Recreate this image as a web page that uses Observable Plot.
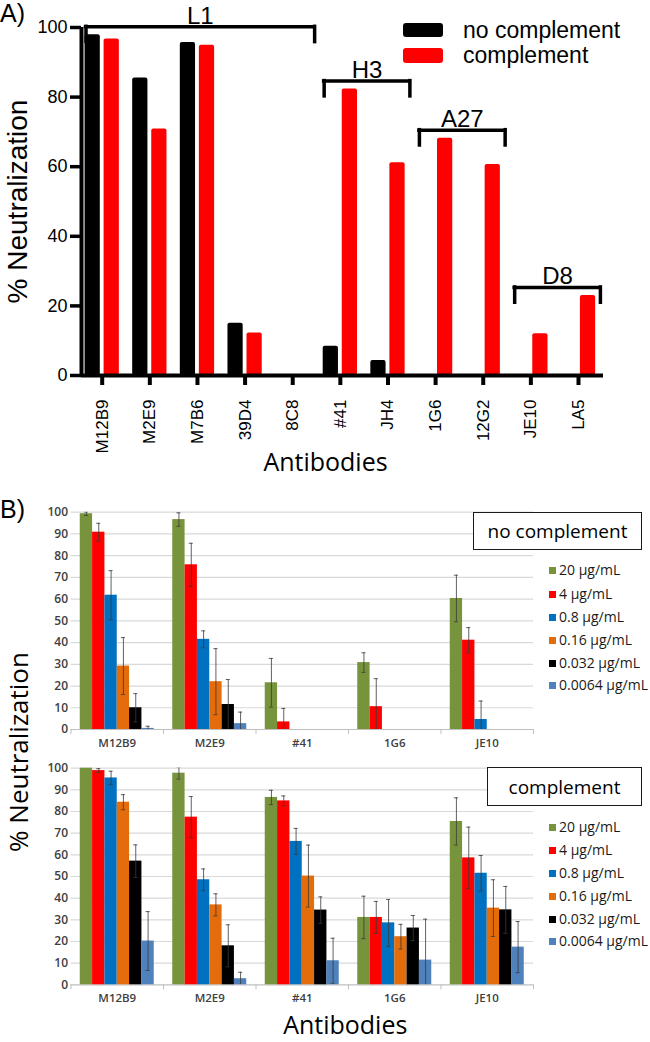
<!DOCTYPE html>
<html><head><meta charset="utf-8">
<script src="https://cdn.jsdelivr.net/npm/d3@7"></script>
<script src="https://cdn.jsdelivr.net/npm/@observablehq/plot@0.6"></script>
<style>
body{margin:0;background:#fff;}
#fig{position:relative;width:650px;height:1042px;overflow:hidden;background:#fff;}
#fig svg{position:absolute;left:0;}
.t{position:absolute;white-space:nowrap;}
</style></head><body><div id="fig"></div>
<script>
// ---------- Panel A data ----------
const abNames = ["M12B9","M2E9","M7B6","39D4","8C8","#41","JH4","1G6","12G2","JE10","LA5"];
const noComplementA = [97.9, 85.5, 95.7, 15.0, 0, 8.4, 4.3, 0, 0, 0, 0];
const complementA   = [96.7, 70.8, 94.9, 12.2, 0, 82.3, 61.1, 68.2, 60.6, 12.0, 23.0];
const seriesA = ["no complement", "complement"];
const groupNames = ["L1", "H3", "A27", "D8"];
const groupFirst = ["M12B9", "#41", "1G6", "JE10"];
const groupLast  = ["8C8", "JH4", "12G2", "LA5"];
const ticksA = [0, 20, 40, 60, 80, 100];

// ---------- Panel B data ----------
const abB = ["M12B9", "M2E9", "#41", "1G6", "JE10"];
const concLabels = ["20 µg/mL", "4 µg/mL", "0.8 µg/mL", "0.16 µg/mL", "0.032 µg/mL", "0.0064 µg/mL"];
// no complement: means and error (per concentration, across abB)
const noComp20    = [99.3, 96.6, 21.5, 30.8, 60.3];
const noComp20e   = [0.8, 3.1, 11.2, 4.5, 10.7];
const noComp4     = [90.8, 75.8, 3.5, 10.5, 41.1];
const noComp4e    = [4.1, 9.9, 6.2, 12.9, 5.8];
const noComp08    = [61.8, 41.5, 0, 0, 4.6];
const noComp08e   = [11.3, 3.9, 0, 0, 8.5];
const noComp016   = [29.2, 22.0, 0, 0, 0];
const noComp016e  = [13.1, 15.2, 0, 0, 0];
const noComp0032  = [10.0, 11.5, 0, 0, 0];
const noComp0032e = [6.5, 11.5, 0, 0, 0];
const noComp00064 = [0.5, 2.7, 0, 0, 0];
const noComp00064e= [1.0, 5.3, 0, 0, 0];
// complement
const comp20    = [100, 97.7, 86.5, 31.1, 75.4];
const comp20e   = [0, 2.7, 3.3, 9.8, 10.9];
const comp4     = [98.9, 77.4, 84.9, 31.1, 58.6];
const comp4e    = [0.9, 9.5, 2.3, 7.4, 14.2];
const comp08    = [95.5, 48.5, 66.2, 28.6, 51.5];
const comp08e   = [3.1, 5.0, 6.0, 10.8, 8.2];
const comp016   = [84.3, 36.9, 50.2, 22.2, 35.4];
const comp016e  = [3.5, 5.1, 14.3, 5.7, 13.1];
const comp0032  = [57.1, 18.0, 34.5, 26.2, 34.6];
const comp0032e = [7.5, 9.7, 6.1, 5.8, 10.8];
const comp00064 = [20.2, 2.8, 11.1, 11.4, 17.4];
const comp00064e= [13.6, 3.0, 10.4, 18.9, 11.8];
const ticksB = [0,10,20,30,40,50,60,70,80,90,100];

// ---------- styles ----------
const colorsA = ["#000000", "#FF0000"];
const colorsB = ["#77933C", "#FF0000", "#0070C0", "#E46C0A", "#000000", "#4F81BD"];
const fig = document.getElementById("fig");
function addDiv(text, style) {
  const d = document.createElement("div");
  d.className = "t";
  if (text != null) d.textContent = text;
  Object.assign(d.style, style);
  fig.appendChild(d);
  return d;
}
function place(svg, top) { svg.style.top = top + "px"; fig.appendChild(svg); }

// ---------- Panel A ----------
const rowsA = abNames.flatMap((name, i) => [
  {i, name, series: seriesA[0], v: noComplementA[i]},
  {i, name, series: seriesA[1], v: complementA[i]}
]).filter(d => d.v > 0);

const brackets = groupNames.map((label, k) => {
  const i0 = abNames.indexOf(groupFirst[k]), i1 = abNames.indexOf(groupLast[k]);
  const top = d3.max(d3.range(i0, i1 + 1), i => Math.max(noComplementA[i], complementA[i])) + 2.3;
  return {label, xa: i0 - 0.34, xb: i1 + 0.46, y: top};
});
const legs = brackets.flatMap(b => [{x: b.xa, y1: b.y - 4.4, y2: b.y}, {x: b.xb, y1: b.y - 4.4, y2: b.y}]);

const plotA = Plot.plot({
  width: 650, height: 480,
  marginLeft: 81, marginRight: 47, marginTop: 27, marginBottom: 105,
  style: {fontFamily: "'Liberation Sans', Arial, sans-serif", background: "transparent", color: "#000", overflow: "visible"},
  x: {type: "linear", domain: [-0.4346, 10.525]},
  y: {domain: [0, 100]},
  color: {domain: seriesA, range: colorsA},
  marks: [
    Plot.rect(rowsA, {
      x1: d => d.i + (d.series === seriesA[0] ? -0.36 : 0.04),
      x2: d => d.i + (d.series === seriesA[0] ? -0.04 : 0.36),
      y1: 0, y2: "v", fill: "series", rx: 2
    }),
    Plot.ruleY(brackets, {y: "y", x1: "xa", x2: "xb", strokeWidth: 3.5, strokeLinecap: "square"}),
    Plot.ruleX(legs, {x: "x", y1: "y1", y2: "y2", strokeWidth: 3.5, strokeLinecap: "square"}),
    Plot.text(brackets, {x: d => (d.xa + d.xb) / 2, y: "y", text: "label", lineAnchor: "bottom", dy: -3, fontSize: 24}),
    Plot.ruleX([-0.4346], {strokeWidth: 4}),
    Plot.ruleY([0], {strokeWidth: 4}),
    Plot.axisY({ticks: ticksA, tickSize: 11, tickPadding: 3, strokeWidth: 3.5, fontSize: 18, label: null}),
    Plot.axisX({ticks: d3.range(abNames.length), tickFormat: i => abNames[i], tickRotate: -90, tickSize: 10, tickPadding: 14, strokeWidth: 4, fontSize: 17, label: null}),
    Plot.text(["% Neutralization"], {frameAnchor: "left", textAnchor: "middle", dx: -63, rotate: -90, fontSize: 28}),
    Plot.text(["Antibodies"], {frameAnchor: "bottom", dx: -17, dy: 95, fontSize: 25, fontFamily: "'Open Sans', sans-serif"})
  ]
});
place(plotA, 0);

addDiv("A)", {left: "0px", top: "1px", fontFamily: "'Liberation Sans', Arial, sans-serif", fontSize: "25px", lineHeight: "25px"});
// legend A
addDiv(null, {left: "403px", top: "23px", width: "40px", height: "14px", background: colorsA[0], borderRadius: "3px"});
addDiv(null, {left: "403px", top: "48px", width: "40px", height: "15px", background: colorsA[1], borderRadius: "3px"});
addDiv(seriesA[0], {left: "463px", top: "20px", fontFamily: "'Liberation Sans', Arial, sans-serif", fontSize: "23px", lineHeight: "20px"});
addDiv(seriesA[1], {left: "463px", top: "45px", fontFamily: "'Liberation Sans', Arial, sans-serif", fontSize: "23px", lineHeight: "20px"});

// ---------- Panel B ----------
function rowsB(means, errs) {
  return means.flatMap((arr, j) => arr.map((v, i) => ({i, j, conc: concLabels[j], v, e: errs[j][i]})));
}
const rowsNo = rowsB([noComp20, noComp4, noComp08, noComp016, noComp0032, noComp00064],
                     [noComp20e, noComp4e, noComp08e, noComp016e, noComp0032e, noComp00064e]);
const rowsYes = rowsB([comp20, comp4, comp08, comp016, comp0032, comp00064],
                      [comp20e, comp4e, comp08e, comp016e, comp0032e, comp00064e]);

const bw = 0.8 / 6;
const cx = d => d.i - 0.4 + (d.j + 0.5) * bw;

function panelB(rows, h, mTop, mBottom, extra) {
  const bars = rows.filter(d => d.v > 0);
  const errs = rows.filter(d => d.e > 0);
  return Plot.plot({
    width: 650, height: h,
    marginLeft: 70.5, marginRight: 117, marginTop: mTop, marginBottom: mBottom,
    style: {fontFamily: "'Open Sans', sans-serif", background: "transparent", overflow: "visible"},
    x: {type: "linear", domain: [-0.5, 4.5]},
    y: {domain: [0, 100]},
    color: {domain: concLabels, range: colorsB},
    marks: [
      Plot.ruleY(ticksB.filter(t => t > 0), {stroke: "#D9D9D9", strokeWidth: 1.2}),
      Plot.ruleY([0], {stroke: "#BFBFBF", strokeWidth: 1.2}),
      Plot.axisX({ticks: d3.range(-0.5, 5, 1), tickFormat: () => "", tickSize: 5, stroke: "#BFBFBF", label: null}),
      Plot.rect(bars, {x1: d => cx(d) - bw / 2, x2: d => cx(d) + bw / 2, y1: 0, y2: "v", fill: "conc"}),
      Plot.ruleX(errs, {x: cx, y1: d => Math.max(0, d.v - d.e), y2: d => d.v + d.e, stroke: "#3a3a3a", strokeWidth: 0.8, clip: true}),
      Plot.ruleY(errs, {y: d => d.v + d.e, x1: d => cx(d) - 0.022, x2: d => cx(d) + 0.022, stroke: "#3a3a3a", strokeWidth: 0.8, clip: true}),
      Plot.ruleY(errs.filter(d => d.v - d.e > 0), {y: d => d.v - d.e, x1: d => cx(d) - 0.022, x2: d => cx(d) + 0.022, stroke: "#3a3a3a", strokeWidth: 0.8}),
      Plot.axisY({ticks: ticksB, tickSize: 0, tickPadding: 3, fontSize: 12, fontWeight: 600, fill: "#404040", label: null}),
      Plot.axisX({ticks: d3.range(abB.length), tickFormat: i => abB[i], tickSize: 0, tickPadding: 9, fontSize: 11.5, fontWeight: 600, fill: "#404040", label: null}),
      ...(extra || [])
    ]
  });
}

const plotB1 = panelB(rowsNo, 275, 31.7, 26);
place(plotB1, 480);
const plotB2 = panelB(rowsYes, 287, 12.7, 57.7, [
  Plot.text(["Antibodies"], {frameAnchor: "bottom", dx: 43, dy: 49, fontSize: 25, fill: "#000"})
]);
place(plotB2, 755);

addDiv("B)", {left: "0px", top: "497px", fontFamily: "'Liberation Sans', Arial, sans-serif", fontSize: "25px", lineHeight: "25px"});
addDiv("% Neutralization", {left: "18px", top: "752px", fontFamily: "'Open Sans', sans-serif", fontSize: "26px", lineHeight: "26px", transform: "translate(-50%,-50%) rotate(-90deg)"});

function legendB(title, box, rowTops) {
  addDiv(title, {left: box[0] + "px", top: box[1] + "px", width: box[2] + "px", height: box[3] + "px",
    boxSizing: "border-box", border: "1.5px solid #1a1a1a", display: "flex", alignItems: "center", justifyContent: "center",
    fontFamily: "'Open Sans', sans-serif", fontSize: "19px", background: "#fff"});
  concLabels.forEach((c, j) => {
    const y = rowTops[j];
    addDiv(null, {left: "549px", top: (y - 3.5) + "px", width: "7px", height: "7px", background: colorsB[j]});
    addDiv(c, {left: "559px", top: (y - 9) + "px", fontFamily: "'Open Sans', sans-serif", fontSize: "14px", lineHeight: "18px", color: "#1a1a1a"});
  });
}
legendB("no complement", [473, 512, 169, 38], [570, 594, 617, 640, 663, 685]);
legendB("complement", [487, 767, 155, 39], [827, 850, 873, 896, 919, 941]);
</script></body></html>
